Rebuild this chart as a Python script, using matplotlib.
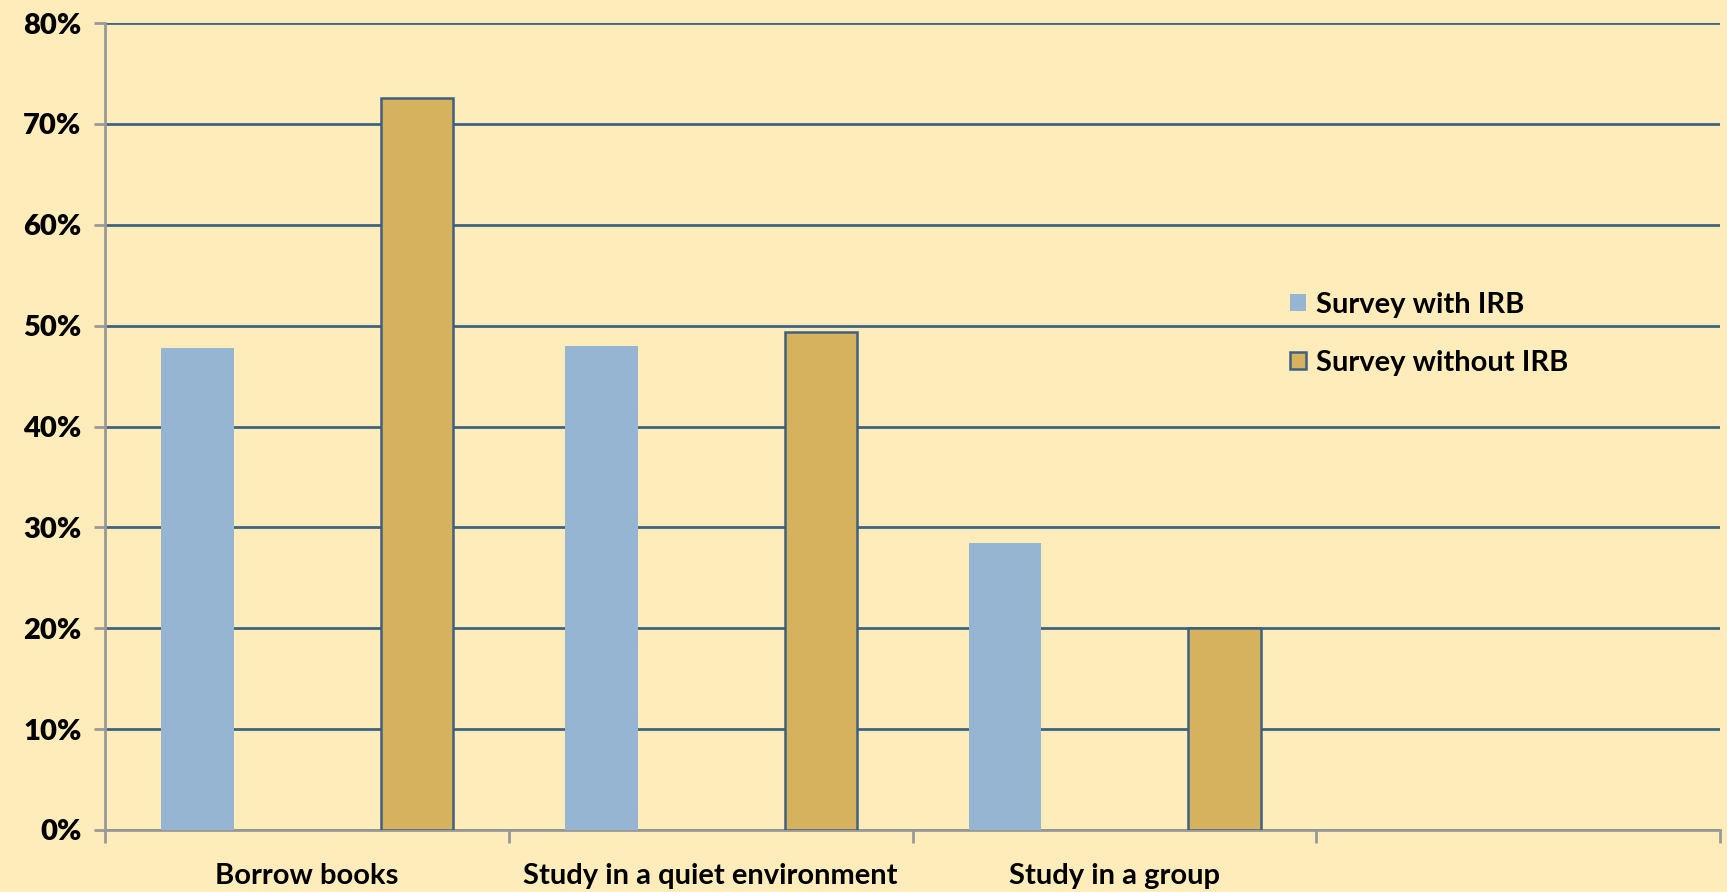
import matplotlib
matplotlib.use("Agg")
import matplotlib.pyplot as plt
import numpy as np
from matplotlib.ticker import FixedLocator, NullFormatter

categories = ["Borrow books", "Study in a quiet environment", "Study in a group", ""]
with_irb = [47.8, 48.0, 28.5, np.nan]
without_irb = [72.6, 49.4, 20.0, np.nan]
series_names = ["Survey with IRB", "Survey without IRB"]
yticks = [0, 10, 20, 30, 40, 50, 60, 70, 80]

bg = "#FEEDBA"
blue = "#95B5D3"
gold = "#D7B25E"
edge = "#3E6080"
grid_c = "#3F6383"

plt.rcParams['font.family'] = ['Lato', 'DejaVu Sans']

W, H = 1727, 892
L, R, T, B = 105, 1720, 23, 830
fig = plt.figure(figsize=(W/100, H/100), dpi=100, facecolor=bg)
ax = fig.add_axes([L/W, 1-B/H, (R-L)/W, (B-T)/H])
ax.set_facecolor(bg)

x = np.arange(len(categories))
w = 0.18
ax.bar(x - 0.271, with_irb, w, color=blue, edgecolor="none", label=series_names[0], zorder=3)
ax.bar(x + 0.273, without_irb, w, color=gold, edgecolor=edge, linewidth=1.8, label=series_names[1], zorder=3)

ax.set_xlim(-0.5, len(categories) - 0.5)
ax.set_ylim(0, 80)
ax.set_yticks(yticks)
ax.set_yticklabels([f"{v}%" for v in yticks], fontsize=21, fontweight="heavy")
ax.yaxis.grid(True, color=grid_c, linewidth=2, zorder=1)
ax.set_axisbelow(True)

ax.set_xticks(x)
ax.set_xticklabels(categories, fontsize=21, fontweight="bold")
ax.tick_params(axis="x", which="major", length=0, pad=24)
ax.xaxis.set_minor_locator(FixedLocator(np.arange(-0.5, len(categories), 1.0)))
ax.xaxis.set_minor_formatter(NullFormatter())
ax.tick_params(axis="x", which="minor", length=9, color="#999999", width=2)
ax.tick_params(axis="y", length=8, color="#999999", width=2, pad=9)

for s in ["top", "right"]:
    ax.spines[s].set_visible(False)
for s in ["left", "bottom"]:
    ax.spines[s].set_color("#999999")
    ax.spines[s].set_linewidth(2)

leg = ax.legend(loc="center left", bbox_to_anchor=(0.725, 0.615),
                frameon=False, prop={"size": 21, "weight": "bold"}, borderpad=0,
                handlelength=0.52, handleheight=0.52, handletextpad=0.34, labelspacing=1.1)

fig.savefig("out.png", dpi=100, facecolor=bg)
